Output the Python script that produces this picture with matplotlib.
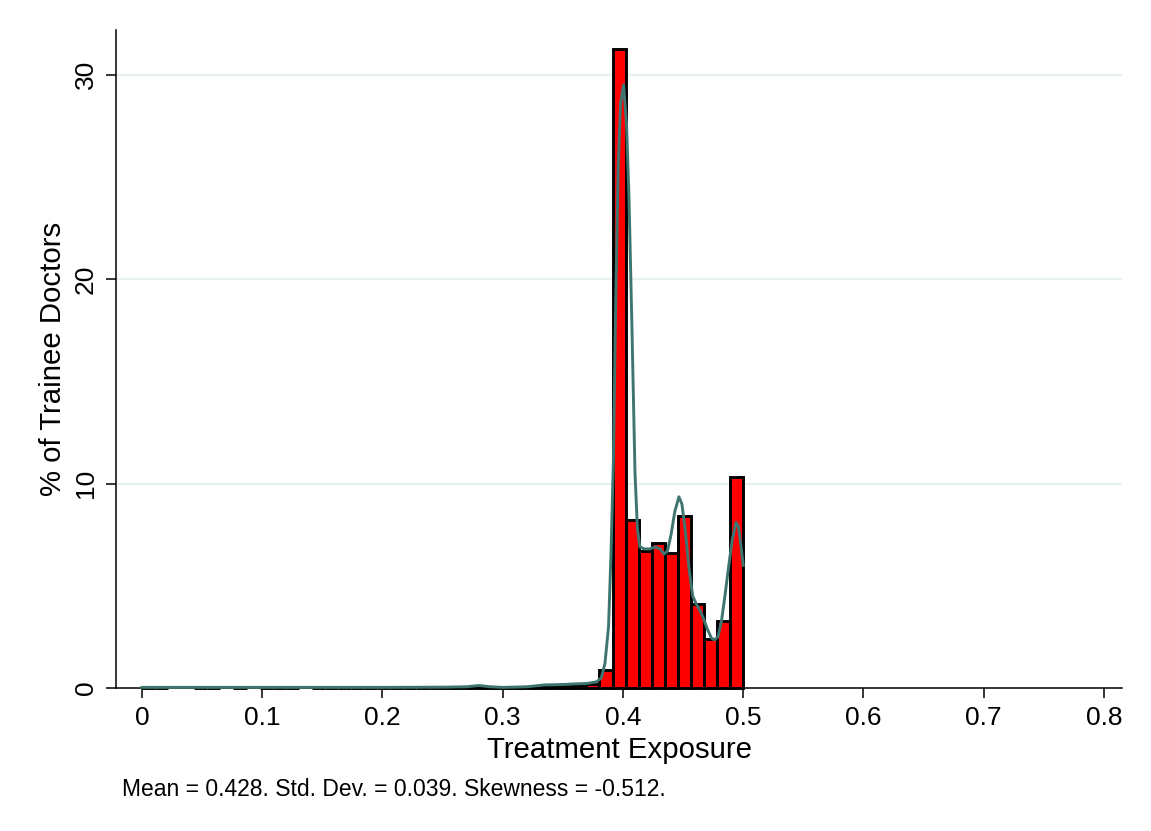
import numpy as np
import matplotlib.pyplot as plt

plt.rcParams['font.family'] = ['Liberation Sans', 'DejaVu Sans']

# histogram: 46 equal bins from 0 to 0.5, heights in percent
n_bins = 46
bin_lo, bin_hi = 0.0, 0.5
pct = [0.02, 0.02, 0, 0, 0.02, 0.02, 0, 0.02, 0, 0.02,
       0.02, 0.02, 0, 0.02, 0.02, 0.02, 0.02, 0.02, 0.02, 0.02,
       0.02, 0.02, 0.02, 0.03, 0.03, 0.03, 0.03, 0.04, 0.04, 0.05,
       0.05, 0.06, 0.08, 0.15, 0.18, 0.86, 31.25, 8.2, 6.7, 7.1,
       6.6, 8.4, 4.1, 2.4, 3.3, 10.3]

# kernel density overlay, percent scale
kd_x = [0.0, 0.05, 0.1, 0.15, 0.2, 0.25, 0.27, 0.28, 0.29, 0.30,
        0.32, 0.335, 0.35, 0.36, 0.37, 0.378, 0.382, 0.385, 0.388, 0.390,
        0.392, 0.394, 0.396, 0.398, 0.4005, 0.403, 0.405, 0.4075, 0.410, 0.412,
        0.414, 0.418, 0.422, 0.427, 0.431, 0.434, 0.437, 0.440, 0.443, 0.4465,
        0.449, 0.452, 0.455, 0.458, 0.461, 0.464, 0.467, 0.470, 0.4735, 0.476,
        0.479, 0.482, 0.485, 0.488, 0.491, 0.494, 0.496, 0.498, 0.5]
kd_y = [0.03, 0.03, 0.03, 0.03, 0.03, 0.04, 0.06, 0.12, 0.06, 0.03,
        0.06, 0.15, 0.17, 0.2, 0.22, 0.3, 0.5, 1.2, 3.0, 6.5,
        11.0, 19.0, 25.5, 28.6, 29.5, 27.5, 24.0, 17.5, 10.5, 7.8,
        6.9, 6.8, 6.8, 6.9, 6.8, 6.55, 6.7, 7.5, 8.6, 9.35,
        9.0, 7.6, 5.8, 4.5, 4.1, 3.8, 3.4, 2.9, 2.45, 2.35,
        2.5, 3.3, 4.6, 6.0, 7.3, 8.1, 7.9, 7.0, 6.0]

x_ticks = [0, 0.1, 0.2, 0.3, 0.4, 0.5, 0.6, 0.7, 0.8]
x_labels = ['0', '0.1', '0.2', '0.3', '0.4', '0.5', '0.6', '0.7', '0.8']
y_ticks = [0, 10, 20, 30]
note = 'Mean = 0.428. Std. Dev. = 0.039. Skewness = -0.512.'

fig = plt.figure(figsize=(11.51, 8.31), dpi=100)
ax = fig.add_axes([0.1008, 0.1721, 0.874, 0.7918])

edges = np.linspace(bin_lo, bin_hi, n_bins + 1)
w = edges[1] - edges[0]
mask = np.array(pct) > 0
ax.bar(edges[:-1][mask], np.array(pct)[mask], width=w, align='edge',
       color='#ff0000', edgecolor='black', linewidth=2.1, zorder=3,
       clip_on=False)
ax.plot(kd_x, kd_y, color='#3f7571', linewidth=2.1, zorder=4, clip_on=False)

for g in y_ticks[1:]:
    ax.axhline(g, color='#e8f0f1', linewidth=1.6, zorder=0)

ax.set_xlim(-0.0216, 0.815)
ax.set_ylim(0, 32.18)
ax.set_xticks(x_ticks)
ax.set_xticklabels(x_labels)
ax.set_yticks(y_ticks)
ax.set_yticklabels([str(t) for t in y_ticks], rotation=90, va='center')

for s in ['top', 'right']:
    ax.spines[s].set_visible(False)
for s in ['left', 'bottom']:
    ax.spines[s].set_linewidth(1.1)
ax.tick_params(axis='both', length=7, width=1.1, labelsize=19, pad=6)

ax.set_xlabel('Treatment Exposure', fontsize=21.2, labelpad=4)
ax.set_ylabel('% of Trainee Doctors', fontsize=21.2, labelpad=5)

fig.text(122 / 1151, 1 - 789 / 831, note, fontsize=16.5, ha='left', va='center')

fig.savefig('out.png', dpi=100, facecolor='white')
